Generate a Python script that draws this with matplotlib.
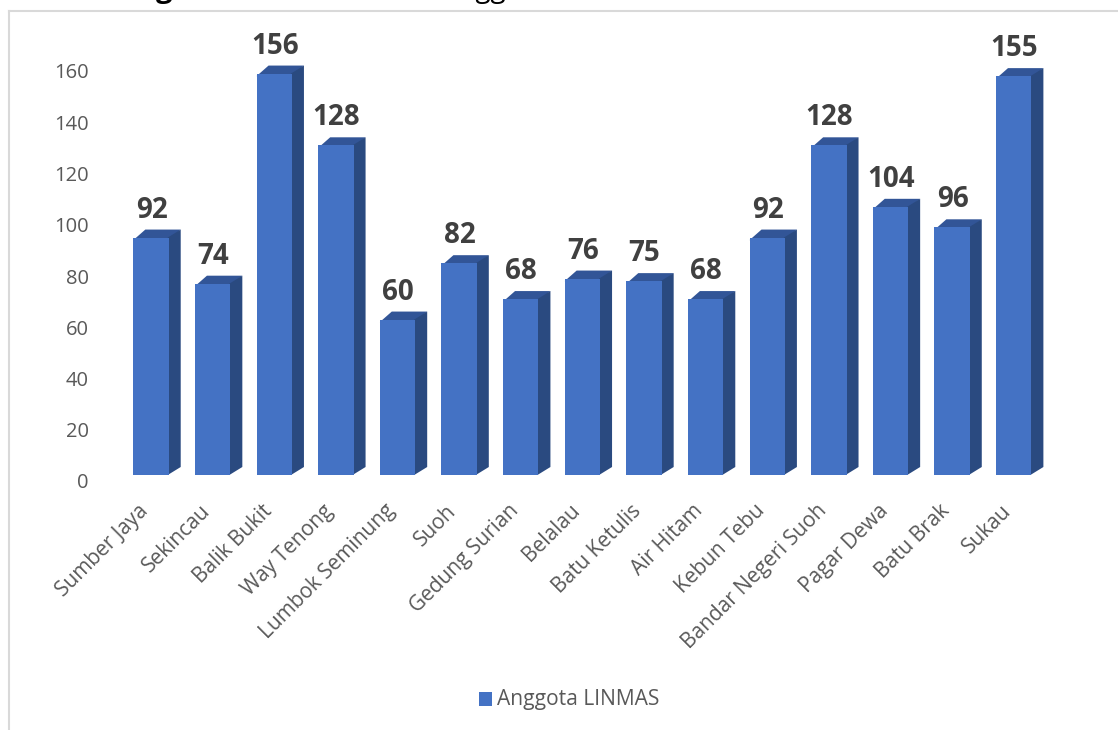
import matplotlib
matplotlib.use('Agg')
import matplotlib.pyplot as plt
from matplotlib.patches import Rectangle
from matplotlib.transforms import ScaledTranslation

plt.rcParams['font.family'] = ['Open Sans', 'DejaVu Sans']

# data
kecamatan = ['Sumber Jaya', 'Sekincau', 'Balik Bukit', 'Way Tenong', 'Lumbok Seminung', 'Suoh',
             'Gedung Surian', 'Belalau', 'Batu Ketulis', 'Air Hitam', 'Kebun Tebu',
             'Bandar Negeri Suoh', 'Pagar Dewa', 'Batu Brak', 'Sukau']
anggota = [92, 74, 156, 128, 60, 82, 68, 76, 75, 68, 92, 128, 104, 96, 155]
y_ticks = [0, 20, 40, 60, 80, 100, 120, 140, 160]

W, H = 1118, 730
fig = plt.figure(figsize=(W / 100, H / 100), dpi=100)

# chart frame, cut off on the right and bottom
fig.add_artist(plt.Line2D([9 / W, 9 / W], [0, 1 - 11 / H], color='#d9d9d9', lw=1.5))
fig.add_artist(plt.Line2D([9 / W, 1], [1 - 11 / H, 1 - 11 / H], color='#d9d9d9', lw=1.5))

# title above the chart is cropped in the reference, only the descenders show
fig.text(156 / W, 1 + 3 / H, 'g', fontsize=21, fontweight='bold', color='black', va='baseline')
fig.text(441 / W, 1 + 3 / H, 'Anggota', fontsize=20, color='black', va='baseline')

# plot area in pixels
left, right, top, bottom = 120.2, 1044.5, 71, 481
ax = fig.add_axes([left / W, 1 - bottom / H, (right - left) / W, (bottom - top) / H])
ax.set_xlim(-0.5, len(kecamatan) - 0.5)
ax.set_ylim(0, 160)
for s in ax.spines.values():
    s.set_visible(False)

px_x = (right - left) / len(kecamatan)
px_y = (bottom - top) / 160
half = 17.7 / px_x          # half width of the front face
dx = 12 / px_x              # depth of the fake 3D
dy = 8 / px_y
base = 6 / px_y             # floor of the bars above zero
lift = 3                    # front face top sits above the value
seam = 1 / px_x

for i, v in enumerate(anggota):
    x0, x1 = i - half, i + half
    t = v + lift
    # side and top go under the front face so no light seam shows
    ax.fill([x0, x1, x1 + dx, x0 + dx], [t - 1, t - 1, t + dy, t + dy], color='#325597', lw=0, clip_on=False, zorder=2)
    ax.fill([x1 - seam, x1 + dx, x1 + dx, x1 - seam], [base, base + dy, t + dy, t], color='#2a4a80', lw=0, clip_on=False, zorder=2)
    ax.fill([x0, x1, x1, x0], [base, base, t, t], color='#4472c4', lw=0, clip_on=False, zorder=3)
    ax.annotate(str(v), (i, t + dy), xytext=(0.5, 5), textcoords='offset pixels', ha='center', va='bottom',
                fontsize=20, fontweight='bold', color='#404040', annotation_clip=False)

ax.set_yticks(y_ticks)
ax.set_xticks(range(len(kecamatan)))
ax.set_xticklabels(kecamatan, rotation=45, ha='right', va='top', rotation_mode='anchor')
ax.tick_params(axis='x', length=0, labelsize=15, labelcolor='#595959', pad=14)
ax.tick_params(axis='y', length=0, labelsize=14.5, labelcolor='#595959', pad=22.5)

# move the slanted labels left of the bar centres
shift = ScaledTranslation(-13 / 100, 0, fig.dpi_scale_trans)
for lab in ax.get_xticklabels():
    lab.set_transform(lab.get_transform() + shift)

# legend
fig.add_artist(Rectangle((478.5 / W, 1 - 705.5 / H), 13.5 / W, 13.5 / H, color='#4472c4', lw=0))
fig.text(497 / W, 1 - 699 / H, 'Anggota LINMAS', fontsize=15.1, color='#595959', va='center')

fig.savefig('out.png', dpi=100)
